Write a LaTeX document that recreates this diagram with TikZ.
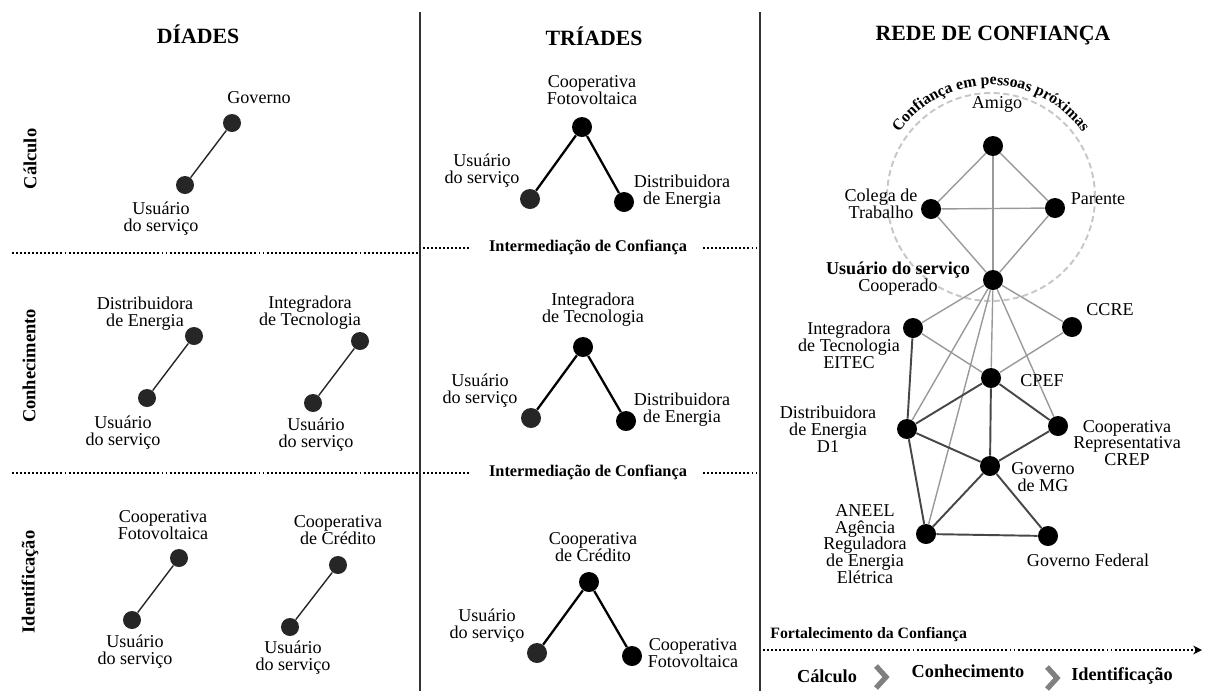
\documentclass[tikz,border=0pt]{standalone}
\usepackage{fontspec}
\setmainfont{Liberation Serif}
\usetikzlibrary{arrows.meta,decorations.text}

\newcommand{\arcfont}{\fontsize{9}{11}\bfseries\selectfont}

\tikzset{
  wall/.style={black!80,line width=1.1pt},
  sep/.style={black,line width=1.1pt,dash pattern=on 1.1pt off 1.2pt},
  head/.style={font=\fontsize{12.4}{14}\bfseries\selectfont},
  side/.style={rotate=90,font=\fontsize{10.5}{12}\bfseries\selectfont},
  inter/.style={font=\fontsize{9.3}{11}\bfseries\selectfont,inner sep=0pt},
  lbl/.style={align=center,inner sep=0pt,font=\fontsize{10.3}{9.6}\selectfont},
  dot/.style={circle,fill=black!85,inner sep=0pt,minimum size=0.36cm},
  tdot/.style={circle,fill=black,inner sep=0pt,minimum size=0.4cm},
  tie/.style={black!85,line width=0.8pt},
  tri/.style={black,line width=1.3pt},
  near/.style={black!40,line width=0.8pt},
  firm/.style={black!72,line width=1.1pt},
  stage/.style={font=\fontsize{10.4}{12}\bfseries\selectfont},
  chev/.style={black!50,line width=3pt},
}

\begin{document}
\begin{tikzpicture}[x=0.02cm,y=-0.02cm]
\useasboundingbox (0,0) rectangle (1206,691);

% panels
\draw[wall] (420,12) -- (420,691);
\draw[wall] (760,12) -- (760,691);
\node[head] (tdia) at (198,34) {DÍADES};
\node[head] (ttri) at (594,36) {TRÍADES};
\node[head] (trede) at (993,36) {REDE DE CONFIANÇA};

\node[side] (scal) at (30,159) {Cálculo};
\node[side] (scon) at (29,366) {Conhecimento};
\node[side] (sid) at (30,582) {Identificação};

\draw[sep] (12,253) -- (420,253);
\draw[sep] (12,473) -- (420,473);
\node[inter] (mid1) at (588,247) {Intermediação de Confiança};
\draw[sep] (423,248) -- (470,248);
\draw[sep] (703,248) -- (758,248);
\node[inter] (mid2) at (588,472) {Intermediação de Confiança};
\draw[sep] (423,473) -- (470,473);
\draw[sep] (703,473) -- (758,473);

% diades
\node[dot] (gov) at (232,123) {};
\node[dot] (u1) at (185,185) {};
\draw[tie] (u1) -- (gov);
\node[lbl] (lgov) at (259,98) {Governo};
\node[lbl] (lu1) at (161,219) {Usuário\\do serviço};

\node[dot] (dist) at (194,336) {};
\node[dot] (u2) at (147,398) {};
\draw[tie] (u2) -- (dist);
\node[lbl] (ldist) at (145,314) {Distribuidora\\de Energia};
\node[lbl] (lu2) at (123,433) {Usuário\\do serviço};

\node[dot] (integ) at (360,341) {};
\node[dot] (u3) at (313,403) {};
\draw[tie] (u3) -- (integ);
\node[lbl] (linteg) at (310,313) {Integradora\\de Tecnologia};
\node[lbl] (lu3) at (316,435) {Usuário\\do serviço};

\node[dot] (foto) at (179,558) {};
\node[dot] (u4) at (132,620) {};
\draw[tie] (u4) -- (foto);
\node[lbl] (lfoto) at (163,525) {Cooperativa\\Fotovoltaica};
\node[lbl] (lu4) at (135,652) {Usuário\\do serviço};

\node[dot] (cred) at (338,565) {};
\node[dot] (u5) at (290,627) {};
\draw[tie] (u5) -- (cred);
\node[lbl] (lcred) at (338,530) {Cooperativa\\de Crédito};
\node[lbl] (lu5) at (293,658) {Usuário\\do serviço};

% triades
\node[tdot] (ta) at (582,127) {};
\node[tdot,fill=black!85] (tb) at (530,199) {};
\node[tdot] (tc) at (624,202) {};
\draw[tri] (tb) -- (ta) -- (tc);
\node[lbl] (lta) at (592,90) {Cooperativa\\Fotovoltaica};
\node[lbl] (ltb) at (482,171) {Usuário\\do serviço};
\node[lbl] (ltc) at (682,192) {Distribuidora\\de Energia};

\node[tdot] (td) at (583,347) {};
\node[tdot,fill=black!85] (te) at (531,418) {};
\node[tdot] (tf) at (626,421) {};
\draw[tri] (te) -- (td) -- (tf);
\node[lbl] (ltd) at (593,310) {Integradora\\de Tecnologia};
\node[lbl] (lte) at (480,391) {Usuário\\do serviço};
\node[lbl] (ltf) at (682,410) {Distribuidora\\de Energia};

\node[tdot] (tg) at (589,582) {};
\node[tdot,fill=black!85] (th) at (537,653) {};
\node[tdot] (ti) at (632,656) {};
\draw[tri] (th) -- (tg) -- (ti);
\node[lbl] (ltg) at (593,547) {Cooperativa\\de Crédito};
\node[lbl] (lth) at (487,626) {Usuário\\do serviço};
\node[lbl] (lti) at (693,653) {Cooperativa\\Fotovoltaica};

% rede de confianca
\node[circle,draw=black!22,line width=1.1pt,dash pattern=on 3.5pt off 2pt,
  minimum size=4.16cm,inner sep=0pt] (ring) at (991,197) {};
\path[decorate,decoration={text along path,text align=center,
  text={|\arcfont|Confiança em pessoas próximas}}]
  (19.82cm,-3.94cm) ++(165:2.24cm) arc[start angle=165,end angle=15,radius=2.24cm];

\node[tdot] (am) at (993,146) {};
\node[tdot] (co) at (931,209) {};
\node[tdot] (pa) at (1055,208) {};
\node[tdot] (us) at (993,280) {};
\node[tdot] (it) at (913,328) {};
\node[tdot] (cc) at (1072,327) {};
\node[tdot] (cp) at (991,378) {};
\node[tdot] (d1) at (907,429) {};
\node[tdot] (cr) at (1058,426) {};
\node[tdot] (mg) at (990,466) {};
\node[tdot] (an) at (926,534) {};
\node[tdot] (gf) at (1048,536) {};

\foreach \a/\b in {am/co,am/pa,am/us,co/pa,co/us,pa/us,us/it,us/cc,us/d1,us/an,us/cp,us/cr,it/cp,cc/cp}
  \draw[near] (\a) -- (\b);
\foreach \a/\b in {it/d1,d1/cp,cp/cr,cp/mg,d1/mg,mg/cr,d1/an,an/mg,an/gf,mg/gf}
  \draw[firm] (\a) -- (\b);

\node[lbl] (lam) at (997,104) {Amigo};
\node[lbl] (lco) at (881,204) {Colega de\\Trabalho};
\node[lbl] (lpa) at (1098,199) {Parente};
\node[lbl] (lus) at (898,279) {\textbf{Usuário do serviço}\\Cooperado};
\node[lbl] (lit) at (849,345) {Integradora\\de Tecnologia\\EITEC};
\node[lbl] (lcc) at (1110,310) {CCRE};
\node[lbl] (lcp) at (1042,381) {CPEF};
\node[lbl] (ld1) at (828,429) {Distribuidora\\de Energia\\D1};
\node[lbl] (lcr) at (1127,443) {Cooperativa\\Representativa\\CREP};
\node[lbl] (lmg) at (1043,477) {Governo\\de MG};
\node[lbl] (lan) at (865,544) {ANEEL\\Agência\\Reguladora\\de Energia\\Elétrica};
\node[lbl] (lgf) at (1088,560) {Governo Federal};

% fortalecimento
\node[anchor=west,inner sep=0pt,font=\fontsize{9}{11}\bfseries\selectfont] (fort) at (770,635) {Fortalecimento da Confiança};
\coordinate (f0) at (763,650);
\coordinate (f1) at (1202,650);
\draw[sep,-{Stealth[length=5pt,width=5pt]}] (f0) -- (f1);
\node[stage] (st1) at (827,676) {Cálculo};
\node[stage] (st2) at (968,671) {Conhecimento};
\node[stage] (st3) at (1122,676) {Identificação};
\draw[chev] (876,666) -- (886,677) -- (876,688);
\draw[chev] (1047,667) -- (1057,678) -- (1047,689);
\end{tikzpicture}
\end{document}
